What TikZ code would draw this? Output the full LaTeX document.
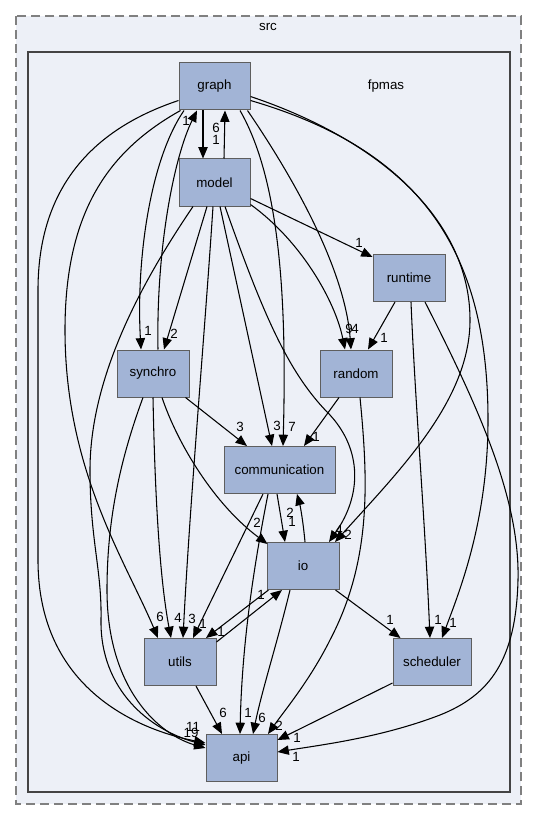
\documentclass[tikz,border=0pt]{standalone}
\usepackage{fontspec}
\setmainfont{Liberation Sans}
\usetikzlibrary{arrows.meta,calc}
\definecolor{clfill}{HTML}{EDF0F7}
\definecolor{nodefill}{HTML}{A2B4D6}
\definecolor{nodeline}{HTML}{5E5E5E}
\definecolor{outerline}{HTML}{808080}
\definecolor{innerline}{HTML}{444444}
\tikzset{
  dirnode/.style={draw=nodeline, fill=nodefill, line width=0.75pt, inner sep=0pt,
    minimum height=35.25pt, minimum width=54pt, font=\fontsize{10}{12}\selectfont},
  dep/.style={line width=0.8pt, -{Triangle[length=8.5pt,width=7pt]}},
  lbl/.style={inner sep=0pt, font=\fontsize{10}{12}\selectfont},
}
\begin{document}
\begin{tikzpicture}[x=0.75pt,y=-0.75pt]
\useasboundingbox (0,0) rectangle (536,820);
\fill[white] (0,0) rectangle (536,820);
\draw[outerline, fill=clfill, line width=1.1pt, dash pattern=on 6.75pt off 3.75pt] (16,16) rectangle (521,804);
\draw[innerline, fill=clfill, line width=1.5pt] (28,52) rectangle (510,792);
\node[lbl] (srclabel) at (268,27) {src};
\node[lbl] (fpmaslabel) at (386,86) {fpmas};

% nodes
\node[dirnode, minimum width=53.25pt] (graph) at (214.5,86.5) {graph};
\node[dirnode, minimum width=53.25pt] (model) at (214.5,182.5) {model};
\node[dirnode] (runtime) at (409,278) {runtime};
\node[dirnode] (synchro) at (153,373.5) {synchro};
\node[dirnode] (random) at (356,373.5) {random};
\node[dirnode, minimum width=83.25pt] (comm) at (279.5,470) {communication};
\node[dirnode] (io) at (303,566) {io};
\node[dirnode] (utils) at (180,662) {utils};
\node[dirnode, minimum width=58.5pt] (scheduler) at (432,662) {scheduler};
\node[dirnode, minimum width=53.25pt] (api) at (241.5,758) {api};

% edges
\draw[dep] ($(graph.south)+(-11.5,0)$) -- ($(model.north)+(-11.5,0)$);
\draw[dep] ($(model.north)+(9.5,0)$) -- ($(graph.south)+(10.5,0)$);
\draw[dep] ($(synchro.north)+(5,0)$) .. controls (156,245) and (175,155) .. ($(graph.south)+(-17.5,0)$);
\draw[dep] ($(graph.south)+(-30.5,0)$) .. controls (150,160) and (136,260) .. ($(synchro.north)+(-12,0)$);
\draw[dep] ($(graph.south west)+(2,0)$) .. controls (110,150) and (65,210) .. (65,330) .. controls (65,470) and (125,560) .. ($(utils.north)+(-22,0)$);
\draw[dep] ($(graph.west)+(0,14)$) .. controls (90,130) and (38,190) .. (38,290) -- (38,560) .. controls (38,690) and (140,730) .. ($(api.west)+(0,-15)$);
\draw[dep] ($(model.south)+(-21.5,0)$) .. controls (150,270) and (90,370) .. (90,470) .. controls (90,540) and (102,570) .. (101,620) .. controls (100,690) and (150,730) .. ($(api.west)+(0,-13)$);
\draw[dep] ($(synchro.south)+(-10,0)$) .. controls (120,460) and (107,520) .. (107,590) .. controls (107,690) and (160,735) .. ($(api.west)+(0,-10)$);
\draw[dep] ($(model.south)+(-7.5,0)$) -- ($(synchro.north)+(11,0)$);
\draw[dep] ($(model.south)+(-1.5,0)$) .. controls (205,330) and (190,500) .. ($(utils.north)+(3,0)$);
\draw[dep] ($(model.south)+(5.5,0)$) -- ($(comm.north)+(-7.5,0)$);
\draw[dep] ($(model.south)+(10.5,0)$) .. controls (265,320) and (290,375) .. (330,415) .. controls (362,450) and (362,495) .. ($(io.north)+(26,0)$);
\draw[dep] ($(model.east)+(0,22)$) .. controls (300,240) and (335,300) .. ($(random.north)+(-11,0)$);
\draw[dep] ($(model.east)+(0,16)$) -- ($(runtime.north west)+(0,3)$);
\draw[dep] ($(graph.south east)+(-3,0)$) .. controls (295,180) and (345,270) .. ($(random.north)+(-5,0)$);
\draw[dep] ($(graph.south)+(25.5,0)$) .. controls (280,180) and (287,300) .. ($(comm.north)+(3.5,0)$);
\draw[dep] ($(graph.east)+(0,10)$) .. controls (380,140) and (470,220) .. (470,320) .. controls (470,400) and (400,470) .. ($(io.north)+(32,0)$);
\draw[dep] ($(graph.east)+(0,14)$) .. controls (420,150) and (488,250) .. (488,420) .. controls (488,520) and (460,590) .. ($(scheduler.north)+(10,0)$);
\draw[dep] ($(runtime.south)+(-14,0)$) -- ($(random.north)+(12,0)$);
\draw[dep] ($(runtime.south)+(2,0)$) .. controls (415,400) and (425,520) .. ($(scheduler.north)+(-2,0)$);
\draw[dep] ($(runtime.south)+(16,0)$) .. controls (480,410) and (520,500) .. (518,580) .. controls (516,660) and (490,695) .. (440,715) .. controls (380,738) and (320,745) .. ($(api.east)+(0,-6)$);
\draw[dep] ($(random.south)+(-17,0)$) -- ($(comm.north)+(24.5,0)$);
\draw[dep] ($(random.south)+(4,0)$) .. controls (368,480) and (372,560) .. (330,640) .. controls (310,680) and (285,710) .. ($(api.north)+(26.5,0)$);
\draw[dep] ($(synchro.south east)+(-4,0)$) -- ($(comm.north)+(-32.5,0)$);
\draw[dep] ($(synchro.south)+(9,0)$) .. controls (178,445) and (215,505) .. ($(io.north west)+(1,2)$);
\draw[dep] (synchro.south) .. controls (155,500) and (160,580) .. ($(utils.north)+(-9,0)$);
\draw[dep] ($(comm.south)+(-2.5,0)$) -- ($(io.north)+(-18,0)$);
\draw[dep] ($(io.north)+(2,0)$) .. controls (303,520) and (300,505) .. ($(comm.south)+(17.5,0)$);
\draw[dep] ($(comm.south)+(-16.5,0)$) -- ($(utils.north)+(13,0)$);
\draw[dep] ($(comm.south)+(-11.5,0)$) .. controls (255,560) and (242,640) .. ($(api.north)+(-1.5,0)$);
\draw[dep] ($(io.south west)+(2,0)$) -- ($(utils.north)+(26,0)$);
\draw[dep] ($(utils.north east)+(0,4)$) -- ($(io.south)+(-21,0)$);
\draw[dep] ($(io.south)+(-13,0)$) .. controls (278,640) and (262,690) .. ($(api.north)+(11.5,0)$);
\draw[dep] ($(io.south east)+(-4,0)$) -- ($(scheduler.north west)+(8,0)$);
\draw[dep] ($(utils.south)+(16,0)$) -- ($(api.north)+(-19.5,0)$);
\draw[dep] ($(scheduler.south west)+(0,-3)$) -- ($(api.east)+(0,-18)$);

% labels
\node[lbl] (l1) at (186,121) {1};
\node[lbl] (l2) at (216,128) {6};
\node[lbl] (l3) at (216,140) {1};
\node[lbl] (l4) at (148,331) {1};
\node[lbl] (l5) at (174,334) {2};
\node[lbl] (l6) at (359,243) {1};
\node[lbl] (l7) at (349,329) {9};
\node[lbl] (l8) at (355,329) {4};
\node[lbl] (l9) at (384,338) {1};
\node[lbl] (l10) at (240,427) {3};
\node[lbl] (l11) at (277,426) {3};
\node[lbl] (l12) at (292,427) {7};
\node[lbl] (l13) at (316,437) {1};
\node[lbl] (l14) at (257,523) {2};
\node[lbl] (l15) at (290,513) {2};
\node[lbl] (l16) at (292,522) {1};
\node[lbl] (l17) at (339,530) {4};
\node[lbl] (l18) at (348,535) {2};
\node[lbl] (l19) at (160,617) {6};
\node[lbl] (l20) at (178,618) {4};
\node[lbl] (l21) at (192,619) {3};
\node[lbl] (l22) at (203,624) {1};
\node[lbl] (l23) at (221,632) {1};
\node[lbl] (l24) at (261,595) {1};
\node[lbl] (l25) at (390,620) {1};
\node[lbl] (l26) at (438,620) {1};
\node[lbl] (l27) at (453,623) {1};
\node[lbl] (l28) at (223,713) {6};
\node[lbl] (l29) at (248,713) {1};
\node[lbl] (l30) at (262,718) {6};
\node[lbl] (l31) at (279,726) {2};
\node[lbl] (l32) at (297,738) {1};
\node[lbl] (l33) at (296,757) {1};
\node[lbl] (l34) at (193,727) {11};
\node[lbl] (l35) at (191,733) {19};
\end{tikzpicture}
\end{document}
